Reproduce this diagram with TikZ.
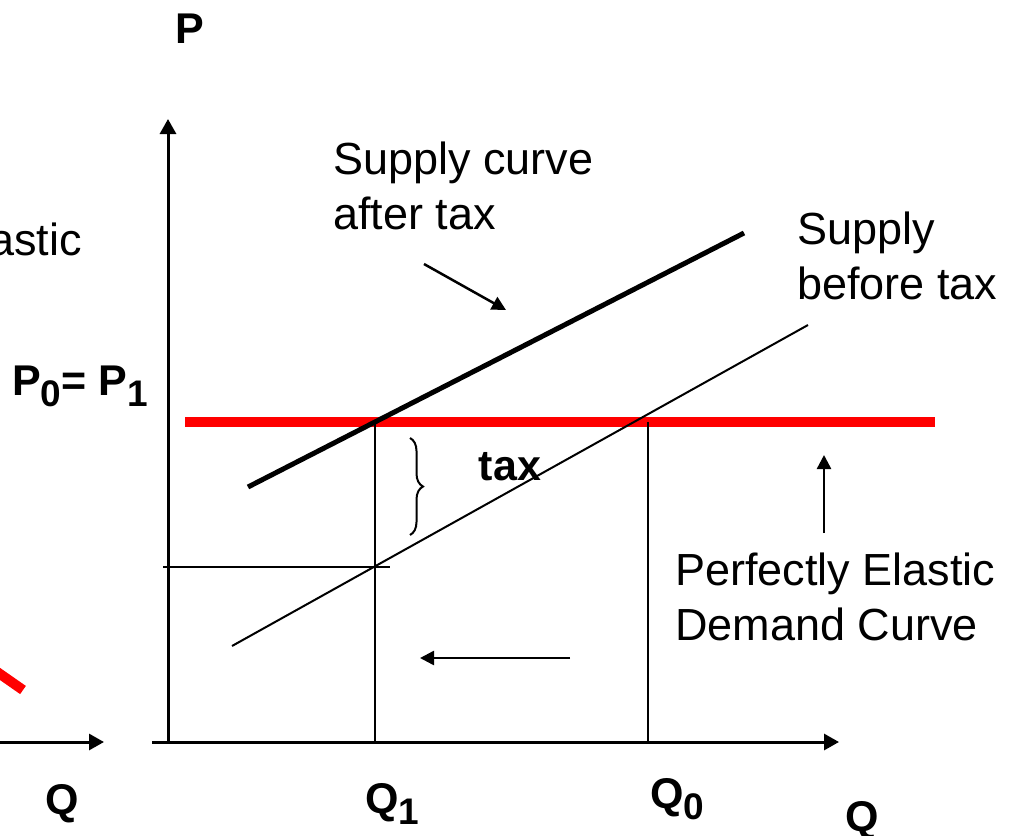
\documentclass[tikz,border=0pt]{standalone}
\usepackage{fontspec}
\setmainfont{Liberation Sans}
\usetikzlibrary{arrows.meta,decorations.pathreplacing}
\newcommand{\lowsub}[1]{\raisebox{-11pt}{\fontsize{37}{37}\selectfont #1}}
\begin{document}
\begin{tikzpicture}[x=1pt, y=-1pt,
    axis/.style={line width=3pt, -{Triangle[length=15pt,width=16pt]}},
    pointer/.style={line width=2.5pt, -{Triangle[length=14pt,width=14pt]}},
    guide/.style={line width=2pt},
    txt/.style={font=\fontsize{45}{55}\selectfont, inner sep=0pt, align=left},
    boldtxt/.style={font=\fontsize{43}{50}\selectfont\bfseries, inner sep=0pt}]
    \useasboundingbox (0,0) rectangle (1019,835);

    % left diagram, cut off by the page
    \node[txt, anchor=base east] (leftlabel) at (82,255) {astic};
    \draw[red, line width=10pt] (-20,660) -- (23,690);
    \coordinate (lefto) at (-10,742);
    \coordinate (leftend) at (104,742);
    \draw[axis] (lefto) -- (leftend);
    \node[boldtxt, anchor=base] (leftq) at (62,814) {Q};

    % axes
    \coordinate (o) at (168,742);
    \draw[axis] (152,742) -- (839,742);
    \draw[axis] (o) -- (168,119);
    \node[boldtxt, anchor=base west] (p) at (175,43) {P};
    \node[boldtxt, anchor=base west] (q) at (845,831) {Q};

    % demand
    \coordinate (da) at (185,422);
    \coordinate (db) at (935,422);
    \draw[red, line width=10pt] (da) -- (db);

    % supply before and after tax
    \coordinate (s0a) at (232,646);
    \coordinate (s0b) at (808,325);
    \draw[line width=2pt] (s0a) -- (s0b);
    \coordinate (s1a) at (248,487);
    \coordinate (s1b) at (744,233);
    \draw[line width=5pt] (s1a) -- (s1b);

    % equilibria
    \draw[guide] (375,422) -- (375,742);
    \draw[guide] (648,422) -- (648,742);
    \draw[guide] (163,567) -- (390,567);
    \node[boldtxt, anchor=base east] (p0) at (148,395) {P\lowsub{0}= P\lowsub{1}};
    \node[boldtxt, anchor=base west] (q1) at (365,813) {Q\lowsub{1}};
    \node[boldtxt, anchor=base west] (q0) at (650,808) {Q\lowsub{0}};

    % tax
    \draw[line width=2pt, decorate, decoration={brace, amplitude=13pt}] (410,438) -- (410,535);
    \node[boldtxt, anchor=base] (tax) at (510,480) {tax};

    % labels
    \node[txt, anchor=north west] (after) at (333,142) {Supply curve\\after tax};
    \coordinate (aftera) at (424,264);
    \coordinate (afterb) at (506,310);
    \draw[pointer] (aftera) -- (afterb);
    \node[txt, anchor=north west] (before) at (797,212) {Supply\\before tax};
    \node[txt, anchor=north west] (demand) at (675,553) {Perfectly Elastic\\Demand Curve};
    \coordinate (demanda) at (824,533);
    \coordinate (demandb) at (824,455);
    \draw[pointer] (demanda) -- (demandb);
    \coordinate (shifta) at (570,658);
    \coordinate (shiftb) at (420,658);
    \draw[pointer] (shifta) -- (shiftb);
\end{tikzpicture}
\end{document}
